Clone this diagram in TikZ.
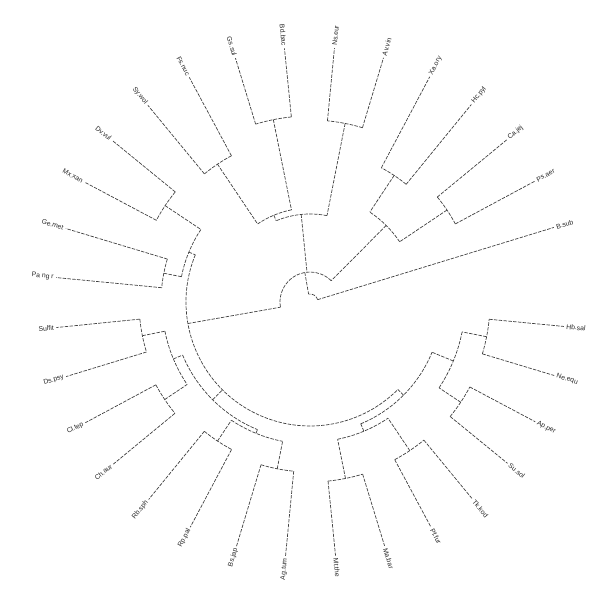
\documentclass[tikz,border=0pt]{standalone}
\usepackage{fontspec}
\setmainfont{Liberation Sans}
\tikzset{
  br/.style={draw=black!75, line width=0.7pt, dash pattern=on 3.5pt off 1.3pt},
  lab/.style={font=\fontsize{6.8}{7}\selectfont, text=black!85, inner sep=0.4pt}
}
\newcommand{\leaf}[4]{%
  \draw[br] (#2:#3pt) -- (#2:255pt);
  \ifdim #2pt>90pt
    \ifdim #2pt<270pt
      \node[lab, anchor=east, rotate=#2-180] (#1) at (#2:257pt) {#4};
    \else
      \node[lab, anchor=west, rotate=#2] (#1) at (#2:257pt) {#4};
    \fi
  \else
    \node[lab, anchor=west, rotate=#2] (#1) at (#2:257pt) {#4};
  \fi
}
\newcommand{\arcr}[3]{\draw[br] (#1:#3pt) arc[start angle=#1, end angle=#2, radius=#3pt];}
\newcommand{\stem}[3]{\draw[br] (#1:#2pt) -- (#1:#3pt);}
\begin{document}
\begin{tikzpicture}[x=1pt,y=1pt]
\useasboundingbox (0,0) rectangle (598,600);
\begin{scope}[shift={(310,298)}]
% leaves
\leaf{r7}{17.0}{8}{B.sub}
\leaf{r6}{28.25}{165}{Ps.aer}
\leaf{r5}{39.5}{165}{Ca.jej}
\leaf{r4}{50.75}{152}{Hc.pyl}
\leaf{r3}{62.0}{152}{Xa.ory}
\leaf{r2}{73.25}{182}{Av.vin}
\leaf{r1}{84.5}{182}{Ns.eur}
\leaf{l8}{95.75}{186}{Bd.bac}
\leaf{l7}{107.0}{186}{Gs.sul}
\leaf{l6}{118.25}{166}{Fs.nuc}
\leaf{l5}{129.5}{166}{Sy.wol}
\leaf{l4}{140.75}{174}{Dv.vul}
\leaf{l3}{152.0}{174}{Mx.xan}
\leaf{l2}{163.25}{149}{Ge.met}
\leaf{l1}{174.5}{149}{Pa ng r}
\leaf{b8}{185.75}{171}{Sulfit}
\leaf{b7}{197.0}{171}{Ds.psy}
\leaf{b6}{208.25}{175}{Cl.tep}
\leaf{b5}{219.5}{175}{Ch.aur}
\leaf{b4}{230.75}{167}{Rb.sph}
\leaf{b3}{242.0}{167}{Rp.pal}
\leaf{b2}{253.25}{170}{Bs.jap}
\leaf{b1}{264.5}{170}{Ag.tum}
\leaf{c1}{275.75}{180}{Mt.the}
\leaf{c2}{287.0}{180}{Ma.bar}
\leaf{c3}{298.25}{179}{Pf.fur}
\leaf{c4}{309.5}{179}{Tk.kod}
\leaf{c5}{320.75}{181}{Su.sol}
\leaf{c6}{332.0}{181}{Ap.per}
\leaf{c7}{343.25}{180}{Ne.equ}
\leaf{c8}{354.5}{180}{Hb.sal}
% cherries
\arcr{28.25}{39.5}{165}
\arcr{50.75}{62.0}{152}
\arcr{73.25}{84.5}{182}
\arcr{95.75}{107.0}{186}
\arcr{118.25}{129.5}{166}
\arcr{140.75}{152.0}{174}
\arcr{163.25}{174.5}{149}
\arcr{185.75}{197.0}{171}
\arcr{208.25}{219.5}{175}
\arcr{230.75}{242.0}{167}
\arcr{253.25}{264.5}{170}
\arcr{275.75}{287.0}{180}
\arcr{298.25}{309.5}{179}
\arcr{320.75}{332.0}{181}
\arcr{343.25}{354.5}{180}
% right clade
\stem{33.875}{165}{108}
\stem{56.375}{152}{108}
\arcr{33.875}{56.375}{108}
\stem{45.125}{108}{30}
% top clade
\stem{78.875}{182}{88}
\stem{101.375}{186}{94}
\stem{123.875}{166}{94}
\arcr{101.375}{123.875}{94}
\stem{112.625}{94}{88}
\arcr{78.875}{112.625}{88}
\stem{95.75}{88}{30}
% left clade
\stem{146.375}{174}{131}
\stem{168.875}{149}{131}
\arcr{146.375}{168.875}{131}
\stem{157.625}{131}{124}
% bottom-left clade
\stem{191.375}{171}{148}
\stem{213.875}{175}{148}
\arcr{191.375}{213.875}{148}
\stem{202.625}{148}{138}
\stem{236.375}{167}{142}
\stem{258.875}{170}{142}
\arcr{236.375}{258.875}{142}
\stem{247.625}{142}{138}
\arcr{202.625}{247.625}{138}
\stem{225.125}{138}{124}
% bottom-right clade
\stem{281.375}{180}{140}
\stem{303.875}{179}{140}
\arcr{281.375}{303.875}{140}
\stem{292.625}{140}{132}
\stem{326.375}{181}{155}
\stem{348.875}{180}{155}
\arcr{326.375}{348.875}{155}
\stem{337.625}{155}{132}
\arcr{292.625}{337.625}{132}
\stem{315.125}{132}{124}
% big lower clade
\arcr{157.625}{315.125}{124}
\stem{190}{124}{30}
% centre
\arcr{45.125}{190}{30}
\stem{100}{30}{8}
\arcr{17.0}{100}{8}
\end{scope}
\end{tikzpicture}
\end{document}
